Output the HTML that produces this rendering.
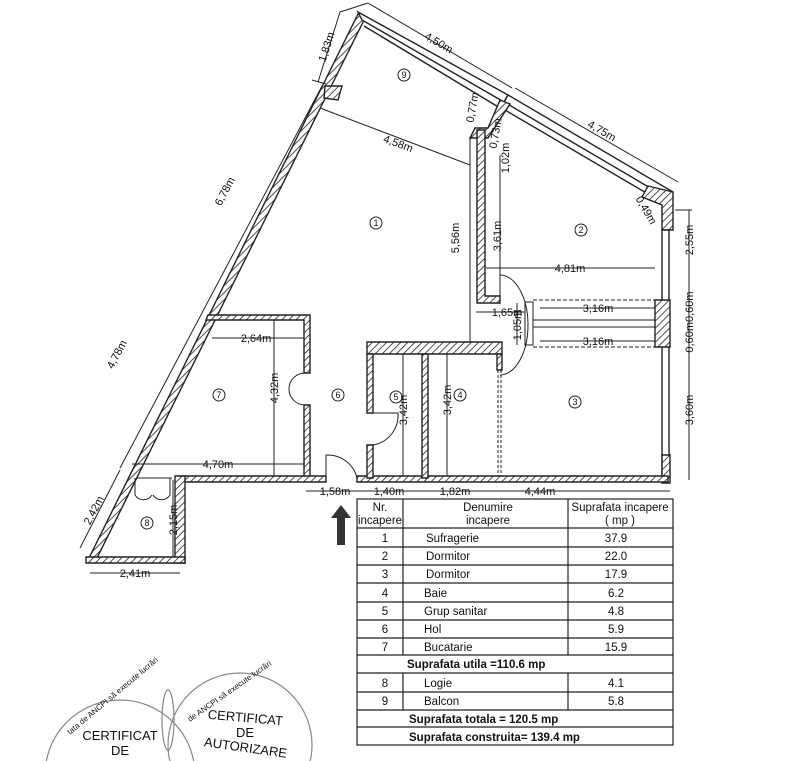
<!DOCTYPE html>
<html><head><meta charset="utf-8"><style>
html,body{margin:0;padding:0;background:#fff;width:800px;height:761px;overflow:hidden}
svg{display:block}
text{font-family:"Liberation Sans",sans-serif;fill:#111}
.d{font-size:11px}
.t{font-size:11.5px}
.b{font-size:11.5px;font-weight:bold}
</style></head><body>
<svg width="800" height="761" viewBox="0 0 800 761" xmlns="http://www.w3.org/2000/svg">
<defs>
<pattern id="h" patternUnits="userSpaceOnUse" width="5" height="5" patternTransform="rotate(45)">
<rect width="5" height="5" fill="#fff"/><line x1="0" y1="0" x2="0" y2="5" stroke="#222" stroke-width="1.6"/>
</pattern>
</defs>
<g stroke="#222" stroke-width="1.4" fill="url(#h)">
<polygon points="358,14 365,18 95,562 88,560"/>
<polygon points="358,12 508,95 504,102 362,20" fill="#fff"/>
<polygon points="508,95 673,192 669,199 504,102" fill="#fff"/>
<line x1="364" y1="26" x2="500" y2="108"/>
<line x1="505" y1="110" x2="660" y2="201"/>
<polygon points="648,186 673,192 673,230 662,230 662,205 642,197"/>
<polygon points="662,230 669,230 669,480 662,480" fill="#fff"/>
<polygon points="655,300 670,300 670,347 655,347"/>
<polygon points="662,455 670,455 670,483 662,483"/>
<polygon points="325,86 342,86 338,100 324,98"/>
<polygon points="500,100 510,104 488,138 470,138 475,128 488,128"/>
<polygon points="477,130 485,130 485,296 500,296 500,303 477,303"/>
<polygon points="208,315 310,315 310,373 304,373 304,320 206,320"/>
<polygon points="304,405 310,405 310,478 304,478"/>
<polygon points="180,476 326,476 326,482 180,482"/>
<polygon points="357,476 668,476 668,482 357,482"/>
<polygon points="175,476 185,476 185,563 175,563"/>
<polygon points="86,557 185,557 185,563 86,563"/>
<polygon points="367,342 502,342 502,354 367,354"/>
<polygon points="367,354 373,354 373,413 367,413"/>
<polygon points="367,445 373,445 373,478 367,478"/>
<polygon points="422,354 428,354 428,478 422,478"/>
<polygon points="497,354 502,354 502,370 497,370"/>
</g>
<g stroke="#222" fill="none" stroke-width="1">
<line x1="498" y1="370" x2="498" y2="476" stroke-dasharray="3,2"/>
<line x1="501" y1="370" x2="501" y2="476" stroke-dasharray="3,2"/>
<line x1="470" y1="138" x2="470" y2="342"/>
<path d="M305,373 A16,16 0 0 0 305,405"/>
<path d="M373,413 L398,413 A30,30 0 0 1 373,445"/>
<path d="M326,480 L326,455 A30,30 0 0 1 357,478"/>
<path d="M500,275 A28,50 0 0 1 500,375"/>
<path d="M135,478 L135,495 A10,10 0 0 0 152,495 M170,478 L170,495 A10,10 0 0 1 153,495"/>
<line x1="137" y1="478" x2="172" y2="478"/>
<line x1="533" y1="300" x2="655" y2="300" stroke-dasharray="4,2"/>
<line x1="533" y1="347" x2="655" y2="347" stroke-dasharray="4,2"/>
<line x1="533" y1="320" x2="655" y2="320"/>
<line x1="533" y1="327" x2="655" y2="327"/>
<rect x="525" y="302" width="8" height="43"/>
<line x1="318" y1="82" x2="340" y2="12"/><line x1="312" y1="80" x2="326" y2="84"/>
<line x1="340" y1="12" x2="368" y2="3" />
<line x1="368" y1="3" x2="512" y2="88"/>
<line x1="515" y1="88" x2="678" y2="182"/>
<line x1="320" y1="108" x2="470" y2="165"/>
<line x1="322" y1="86" x2="120" y2="468"/>
<line x1="120" y1="470" x2="80" y2="548"/>
<line x1="500" y1="155" x2="500" y2="296"/>
<line x1="486" y1="268" x2="655" y2="268"/>
<line x1="476" y1="312" x2="525" y2="312"/>
<line x1="517" y1="303" x2="517" y2="345"/>
<line x1="540" y1="308" x2="655" y2="308"/>
<line x1="540" y1="341" x2="655" y2="341"/>
<line x1="689" y1="210" x2="689" y2="480"/>
<line x1="675" y1="210" x2="692" y2="210"/>
<line x1="212" y1="338" x2="304" y2="338"/>
<line x1="274" y1="320" x2="274" y2="476"/>
<line x1="403" y1="354" x2="403" y2="476"/>
<line x1="447" y1="354" x2="447" y2="476"/>
<line x1="132" y1="464" x2="304" y2="464"/>
<line x1="306" y1="491" x2="670" y2="491"/>
<line x1="173" y1="480" x2="173" y2="557"/>
<line x1="90" y1="573" x2="180" y2="573"/>
</g>
<polygon points="341,505 351,518 345,518 345,545 337,545 337,518 331,518" fill="#333"/>
<g class="d">
<text transform="translate(330,48) rotate(-72)" text-anchor="middle">1,83m</text>
<text transform="translate(437,46) rotate(30)" text-anchor="middle">4,50m</text>
<text transform="translate(476,108) rotate(-80)" text-anchor="middle">0,77m</text>
<text transform="translate(600,134) rotate(30)" text-anchor="middle">4,75m</text>
<text transform="translate(499,134) rotate(-80)" text-anchor="middle">0,73m</text>
<text transform="translate(509,158) rotate(-90)" text-anchor="middle">1,02m</text>
<text transform="translate(397,147) rotate(20)" text-anchor="middle">4,58m</text>
<text transform="translate(228,193) rotate(-62)" text-anchor="middle">6,78m</text>
<text transform="translate(459,238) rotate(-90)" text-anchor="middle">5,56m</text>
<text transform="translate(501,236) rotate(-90)" text-anchor="middle">3,61m</text>
<text transform="translate(643,212) rotate(60)" text-anchor="middle">0,49m</text>
<text transform="translate(693,240) rotate(-90)" text-anchor="middle">2,55m</text>
<text x="570" y="272" text-anchor="middle">4,81m</text>
<text x="507" y="316" text-anchor="middle">1,65m</text>
<text x="598" y="312" text-anchor="middle">3,16m</text>
<text x="598" y="345" text-anchor="middle">3,16m</text>
<text transform="translate(521,325) rotate(-90)" text-anchor="middle">1,05m</text>
<text transform="translate(693,322) rotate(-90)" text-anchor="middle">0,60m0,60m</text>
<text x="256" y="342" text-anchor="middle">2,64m</text>
<text transform="translate(278,388) rotate(-90)" text-anchor="middle">4,32m</text>
<text transform="translate(407,410) rotate(-90)" text-anchor="middle">3,42m</text>
<text transform="translate(451,400) rotate(-90)" text-anchor="middle">3,42m</text>
<text transform="translate(120,356) rotate(-62)" text-anchor="middle">4,78m</text>
<text transform="translate(693,410) rotate(-90)" text-anchor="middle">3,60m</text>
<text x="218" y="468" text-anchor="middle">4,70m</text>
<text x="335" y="495" text-anchor="middle">1,58m</text>
<text x="389" y="495" text-anchor="middle">1,40m</text>
<text x="455" y="495" text-anchor="middle">1,82m</text>
<text x="540" y="495" text-anchor="middle">4,44m</text>
<text transform="translate(97,512) rotate(-62)" text-anchor="middle">2,42m</text>
<text transform="translate(177,520) rotate(-90)" text-anchor="middle">2,15m</text>
<text x="135" y="577" text-anchor="middle">2,41m</text>
</g>
<g fill="none" stroke="#222" stroke-width="1">
<circle cx="404" cy="75" r="6"/><circle cx="376" cy="223" r="6"/><circle cx="581" cy="230" r="6"/>
<circle cx="575" cy="402" r="6"/><circle cx="460" cy="395" r="6"/><circle cx="396" cy="397" r="6"/>
<circle cx="338" cy="395" r="6"/><circle cx="219" cy="395" r="6"/><circle cx="147" cy="523" r="6"/>
</g>
<g font-size="9" text-anchor="middle">
<text x="404" y="78">9</text><text x="376" y="226">1</text><text x="581" y="233">2</text>
<text x="575" y="405">3</text><text x="460" y="398">4</text><text x="396" y="400">5</text>
<text x="338" y="398">6</text><text x="219" y="398">7</text><text x="147" y="526">8</text>
</g>
<g stroke="#222" stroke-width="1.2" fill="none">
<rect x="357" y="499" width="316" height="246"/>
<line x1="357" y1="528" x2="673" y2="528"/>
<line x1="357" y1="547" x2="673" y2="547"/>
<line x1="357" y1="565" x2="673" y2="565"/>
<line x1="357" y1="583" x2="673" y2="583"/>
<line x1="357" y1="602" x2="673" y2="602"/>
<line x1="357" y1="620" x2="673" y2="620"/>
<line x1="357" y1="638" x2="673" y2="638"/>
<line x1="357" y1="655" x2="673" y2="655"/>
<line x1="357" y1="673" x2="673" y2="673"/>
<line x1="357" y1="692" x2="673" y2="692"/>
<line x1="357" y1="710" x2="673" y2="710"/>
<line x1="357" y1="727" x2="673" y2="727"/>
<line x1="403" y1="499" x2="403" y2="655"/><line x1="568" y1="499" x2="568" y2="655"/>
<line x1="403" y1="673" x2="403" y2="710"/><line x1="568" y1="673" x2="568" y2="710"/>
</g>
<g class="t" text-anchor="middle">
<text x="380" y="511">Nr.</text><text x="380" y="524">incapere</text>
<text x="488" y="511">Denumire</text><text x="488" y="524">incapere</text>
<text x="620" y="511">Suprafata incapere</text><text x="620" y="524">( mp )</text>
<text x="385" y="542">1</text><text x="385" y="560">2</text><text x="385" y="578">3</text>
<text x="385" y="597">4</text><text x="385" y="615">5</text><text x="385" y="633">6</text><text x="385" y="651">7</text>
<text x="385" y="687">8</text><text x="385" y="705">9</text>
<text x="616" y="542">37.9</text><text x="616" y="560">22.0</text><text x="616" y="578">17.9</text>
<text x="616" y="597">6.2</text><text x="616" y="615">4.8</text><text x="616" y="633">5.9</text><text x="616" y="651">15.9</text>
<text x="616" y="687">4.1</text><text x="616" y="705">5.8</text>
</g>
<g class="t">
<text x="426" y="542">Sufragerie</text><text x="426" y="560">Dormitor</text><text x="426" y="578">Dormitor</text>
<text x="424" y="597">Baie</text><text x="424" y="615">Grup sanitar</text><text x="424" y="633">Hol</text><text x="424" y="651">Bucatarie</text>
<text x="424" y="687">Logie</text><text x="424" y="705">Balcon</text>
</g>
<g class="b">
<text x="407" y="668">Suprafata utila =110.6  mp</text>
<text x="409" y="723">Suprafata totala = 120.5 mp</text>
<text x="409" y="741">Suprafata construita= 139.4 mp</text>
</g>
<g fill="none" stroke="#888" stroke-width="1.2">
<circle cx="120" cy="775" r="75"/><circle cx="240" cy="745" r="72"/>
<ellipse cx="168" cy="720" rx="6" ry="30"/>
</g>
<g fill="#777" font-size="13" text-anchor="middle">
<text x="120" y="740">CERTIFICAT</text><text x="120" y="755">DE</text>
<text x="245" y="722" transform="rotate(5 245 722)">CERTIFICAT</text><text x="245" y="737">DE</text><text x="245" y="752" transform="rotate(8 245 752)">AUTORIZARE</text>
</g>
<g fill="#888" font-size="8">
<text transform="translate(70,735) rotate(-40)">tata de ANCPI să execute lucrări</text>
<text transform="translate(190,722) rotate(-35)">de ANCPI să execute lucrări</text>
</g>
</svg>
</body></html>
